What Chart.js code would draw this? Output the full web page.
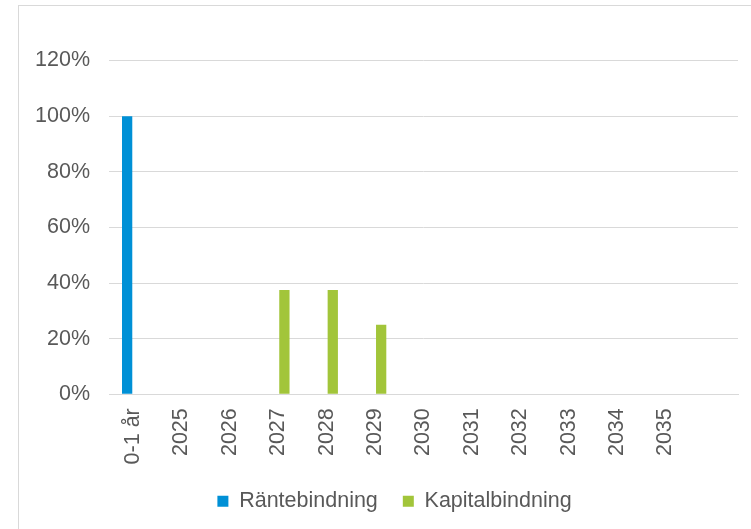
<!DOCTYPE html>
<html>
<head>
<meta charset="utf-8">
<script src="https://cdn.jsdelivr.net/npm/chart.js@4"></script>
<style>
  html, body { margin: 0; padding: 0; background: #fff; }
  #wrap { position: absolute; left: 0; top: 0; width: 751px; height: 529px; }
  #frame { position: absolute; left: 18px; top: 5px; width: 740px; height: 540px;
           border-left: 1px solid #d9d9d9; border-top: 1px solid #d9d9d9; }
</style>
</head>
<body>
<div id="wrap">
  <div id="frame"></div>
  <canvas id="chart" width="751" height="529"></canvas>
</div>
<script>
const categories = ["0-1 år", "2025", "2026", "2027", "2028", "2029", "2030", "2031", "2032", "2033", "2034", "2035", ""];
const ranteValues = [100, 0, 0, 0, 0, 0, 0, 0, 0, 0, 0, 0, 0];
const kapitalValues = [0, 0, 0, 37.5, 37.5, 25, 0, 0, 0, 0, 0, 0, 0];
const yTicks = [0, 20, 40, 60, 80, 100, 120];

const textColor = "#595959";
const gridColor = "#d9d9d9";
const fontFamily = "'Liberation Sans', Arial, sans-serif";

// legend sits centred under the plot area, not the whole canvas
const shiftLegend = {
  id: "shiftLegend",
  afterLayout(chart) {
    chart.legend.left += 16;
    chart.legend.right += 16;
  }
};

const ctx = document.getElementById("chart");
new Chart(ctx, {
  type: "bar",
  data: {
    labels: categories,
    datasets: [{
      label: "Räntebindning",
      data: ranteValues,
      backgroundColor: "#0090d6",
      categoryPercentage: 0.5,
      barPercentage: 0.85
    }, {
      label: "Kapitalbindning",
      data: kapitalValues,
      backgroundColor: "#a2c53a",
      categoryPercentage: 0.5,
      barPercentage: 0.85
    }]
  },
  plugins: [shiftLegend],
  options: {
    responsive: false,
    animation: false,
    layout: { padding: { left: 19, right: 13, top: 60.5, bottom: 7 } },
    plugins: {
      tooltip: { enabled: false },
      legend: {
        position: "bottom",
        labels: {
          boxWidth: 11, boxHeight: 11, padding: 25,
          color: textColor,
          font: { family: fontFamily, size: 21.5 }
        }
      }
    },
    scales: {
      x: {
        grid: { display: false },
        border: { display: true, color: gridColor, width: 1 },
        ticks: {
          color: textColor, minRotation: 90, maxRotation: 90, autoSkip: false,
          padding: 6,
          font: { family: fontFamily, size: 21.5 }
        },
        afterFit: (scale) => { scale.height = 71.25; }
      },
      y: {
        min: 0, max: 120,
        afterBuildTicks: (scale) => { scale.ticks = yTicks.map(v => ({ value: v })); },
        grid: { color: gridColor, drawTicks: false },
        border: { display: false },
        ticks: {
          color: textColor, padding: 19,
          font: { family: fontFamily, size: 21.5 },
          callback: (v) => v + "%"
        },
        afterFit: (scale) => { scale.width = 90; }
      }
    }
  }
});
</script>
</body>
</html>
